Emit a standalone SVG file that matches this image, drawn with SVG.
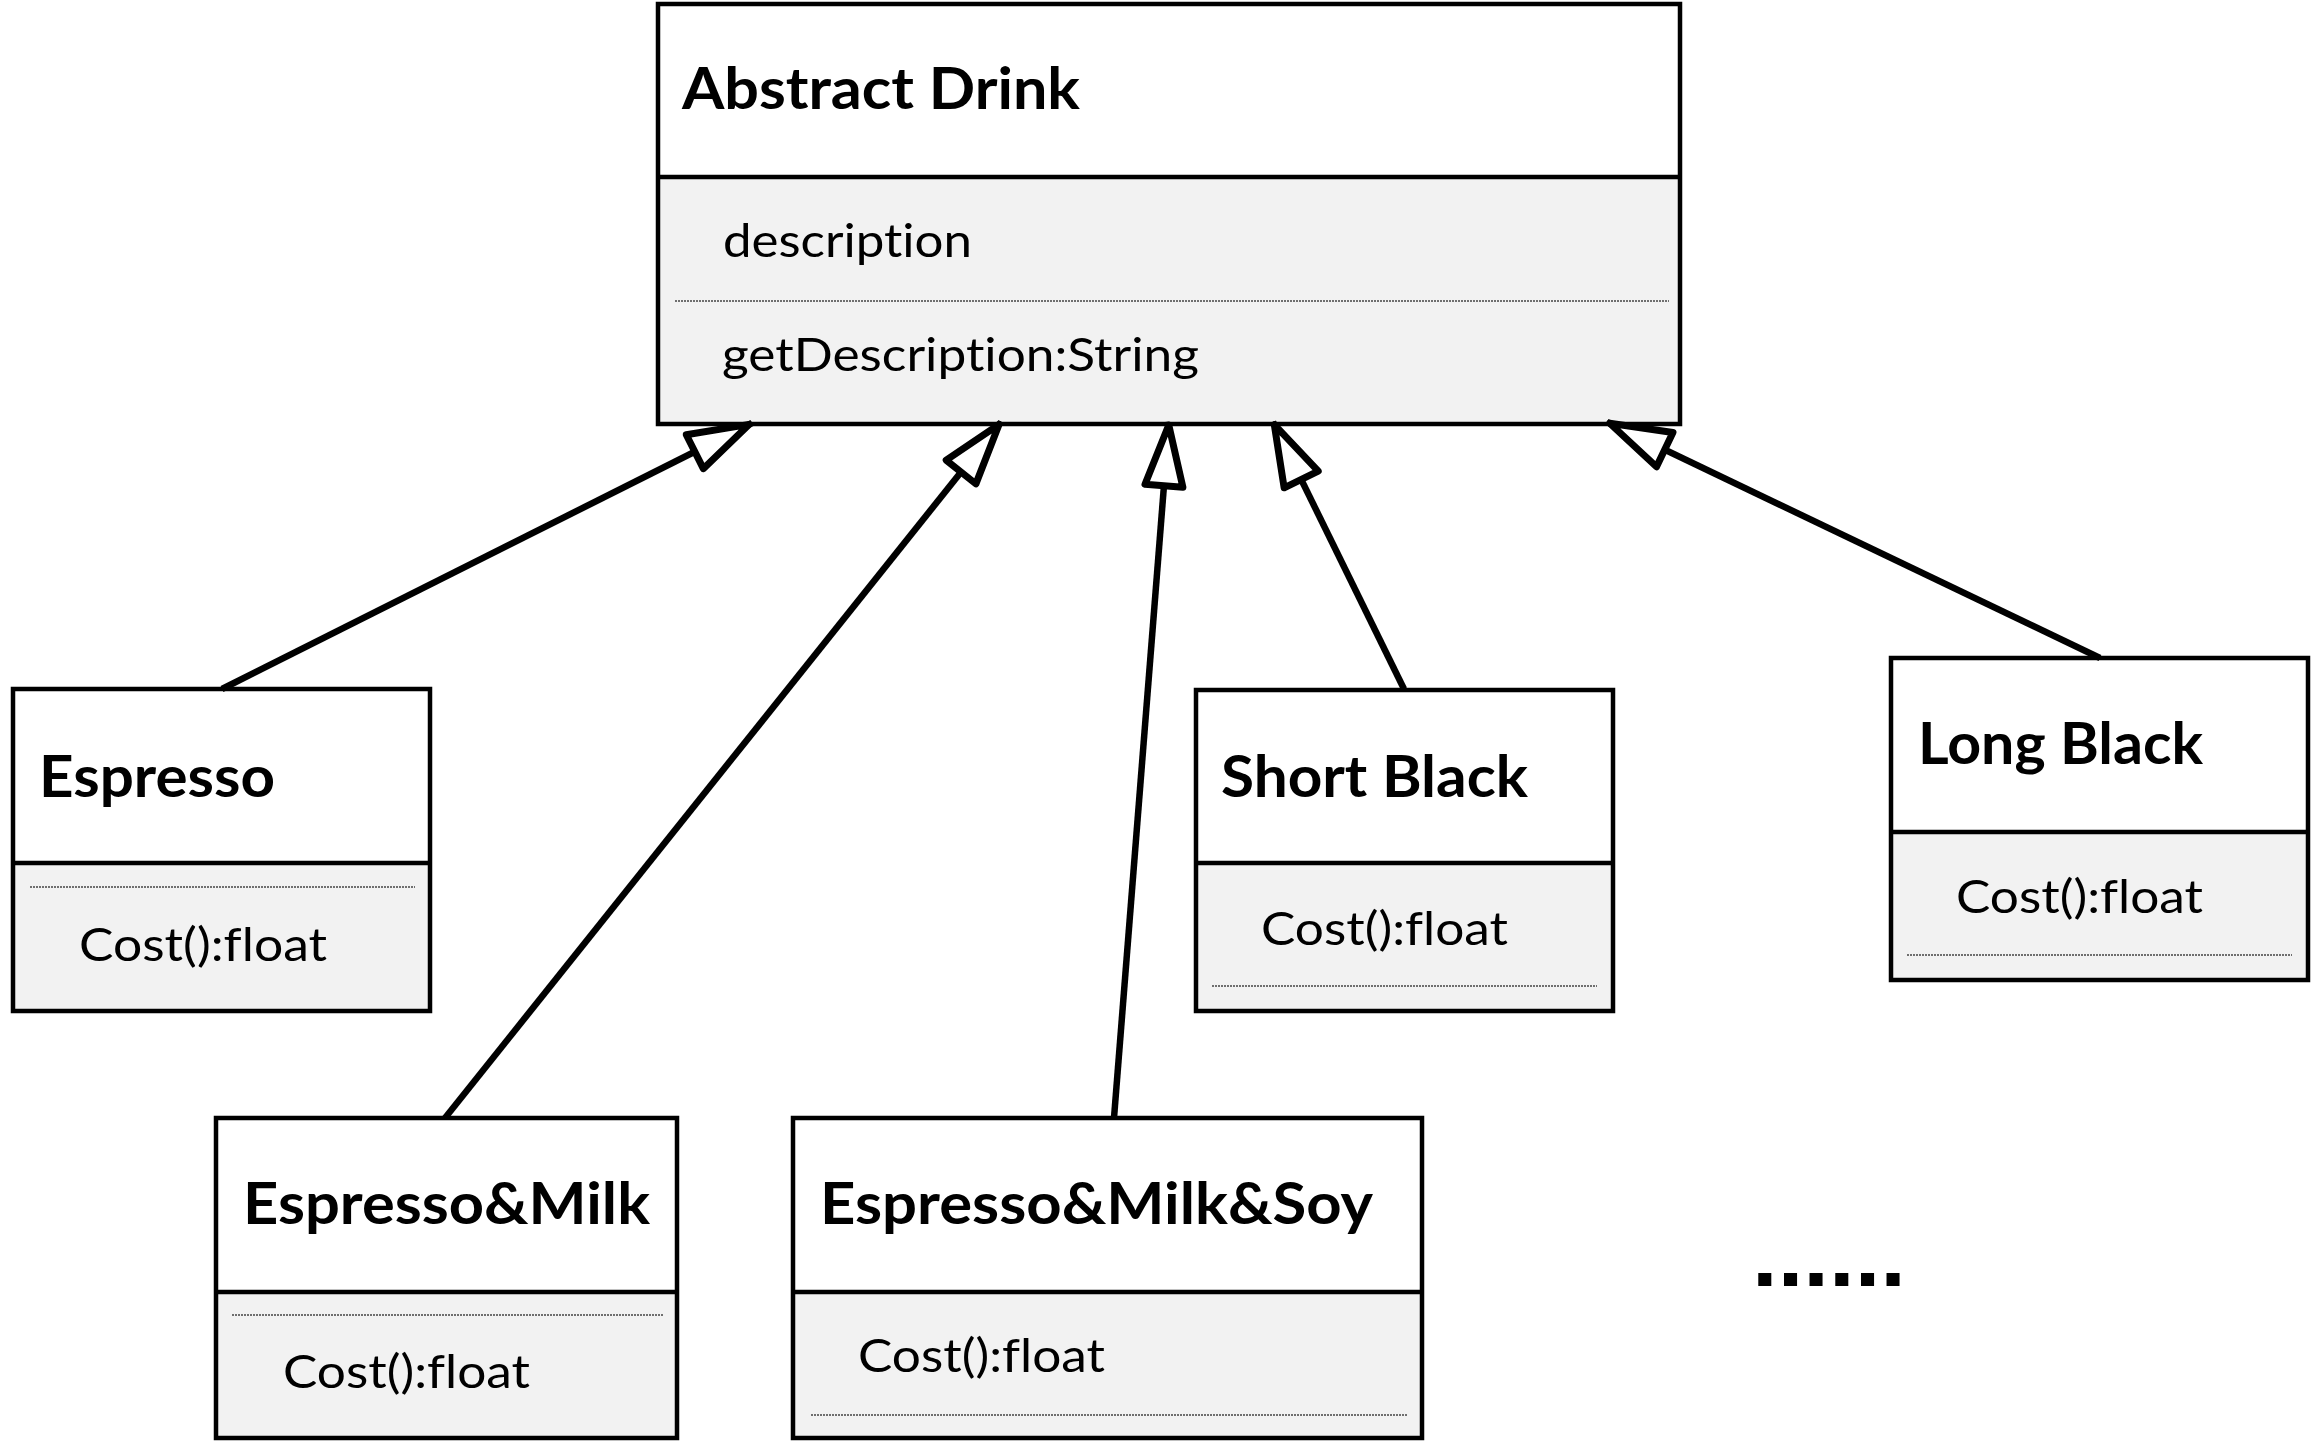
<svg xmlns="http://www.w3.org/2000/svg" width="2313" height="1442" viewBox="0 0 2313 1442">
<style>
.box{fill:none;stroke:#000;stroke-width:4.5;}
.hdr{fill:#fff;}
.body{fill:#f2f2f2;}
.div{stroke:#000;stroke-width:4.5;}
.dot{stroke:#444;stroke-width:1.6;stroke-dasharray:2 1;}
.title{font-family:Lato,"Liberation Sans",sans-serif;font-weight:bold;font-size:58px;fill:#000;font-variant-ligatures:none;}
.item{font-family:Lato,"Liberation Sans",sans-serif;font-size:47px;fill:#000;font-variant-ligatures:none;}
.more{font-family:"Liberation Sans",sans-serif;font-weight:bold;font-size:88px;fill:#000;}
.conn{fill:none;stroke:#000;stroke-width:6.5;marker-end:url(#tri);}
</style>
<defs>
<marker id="tri" markerUnits="userSpaceOnUse" orient="auto" viewBox="-72 -28 76 56" markerWidth="76" markerHeight="56" refX="0" refY="0" overflow="visible">
<path d="M-3,0 L-64,-19 L-64,19 Z" fill="#fff" stroke="#000" stroke-width="7" stroke-linejoin="round"/>
</marker>
</defs>
<rect width="2313" height="1442" fill="#fff"/>

<g id="abstract-drink">
<rect class="hdr" x="658" y="4" width="1022" height="173"/>
<rect class="body" x="658" y="177" width="1022" height="247"/>
<line class="div" x1="658" y1="177" x2="1680" y2="177"/>
<line class="dot" x1="675" y1="301" x2="1669" y2="301"/>
<rect class="box" x="658" y="4" width="1022" height="420"/>
<text class="title" x="682" y="109" textLength="398" lengthAdjust="spacingAndGlyphs">Abstract Drink</text>
<text class="item" x="723" y="257" textLength="249" lengthAdjust="spacingAndGlyphs">description</text>
<text class="item" x="722" y="371" textLength="477" lengthAdjust="spacingAndGlyphs">getDescription:String</text>
</g>

<g id="espresso">
<rect class="hdr" x="13" y="689" width="417" height="174"/>
<rect class="body" x="13" y="863" width="417" height="148"/>
<line class="div" x1="13" y1="863" x2="430" y2="863"/>
<line class="dot" x1="30" y1="887" x2="415" y2="887"/>
<rect class="box" x="13" y="689" width="417" height="322"/>
<text class="title" x="39" y="797" textLength="236" lengthAdjust="spacingAndGlyphs">Espresso</text>
<text class="item" x="79" y="961" textLength="248" lengthAdjust="spacingAndGlyphs">Cost():float</text>
</g>

<g id="espresso-milk">
<rect class="hdr" x="216" y="1118" width="461" height="174"/>
<rect class="body" x="216" y="1292" width="461" height="146"/>
<line class="div" x1="216" y1="1292" x2="677" y2="1292"/>
<line class="dot" x1="232" y1="1315" x2="663" y2="1315"/>
<rect class="box" x="216" y="1118" width="461" height="320"/>
<text class="title" x="243" y="1224" textLength="407" lengthAdjust="spacingAndGlyphs">Espresso&amp;Milk</text>
<text class="item" x="283" y="1388" textLength="247" lengthAdjust="spacingAndGlyphs">Cost():float</text>
</g>

<g id="espresso-milk-soy">
<rect class="hdr" x="793" y="1118" width="629" height="174"/>
<rect class="body" x="793" y="1292" width="629" height="146"/>
<line class="div" x1="793" y1="1292" x2="1422" y2="1292"/>
<line class="dot" x1="811" y1="1415" x2="1408" y2="1415"/>
<rect class="box" x="793" y="1118" width="629" height="320"/>
<text class="title" x="820" y="1224" textLength="553" lengthAdjust="spacingAndGlyphs">Espresso&amp;Milk&amp;Soy</text>
<text class="item" x="858" y="1372" textLength="247" lengthAdjust="spacingAndGlyphs">Cost():float</text>
</g>

<g id="short-black">
<rect class="hdr" x="1196" y="690" width="417" height="173"/>
<rect class="body" x="1196" y="863" width="417" height="148"/>
<line class="div" x1="1196" y1="863" x2="1613" y2="863"/>
<line class="dot" x1="1212" y1="986" x2="1597" y2="986"/>
<rect class="box" x="1196" y="690" width="417" height="321"/>
<text class="title" x="1221" y="797" textLength="307" lengthAdjust="spacingAndGlyphs">Short Black</text>
<text class="item" x="1261" y="945" textLength="247" lengthAdjust="spacingAndGlyphs">Cost():float</text>
</g>

<g id="long-black">
<rect class="hdr" x="1891" y="658" width="417" height="174"/>
<rect class="body" x="1891" y="832" width="417" height="148"/>
<line class="div" x1="1891" y1="832" x2="2308" y2="832"/>
<line class="dot" x1="1907" y1="955" x2="2292" y2="955"/>
<rect class="box" x="1891" y="658" width="417" height="322"/>
<text class="title" x="1918" y="764" textLength="285" lengthAdjust="spacingAndGlyphs">Long Black</text>
<text class="item" x="1956" y="913" textLength="247" lengthAdjust="spacingAndGlyphs">Cost():float</text>
</g>

<g id="connectors">
<path class="conn" d="M222,689 L752,423"/>
<path class="conn" d="M445,1118 L1001,422"/>
<path class="conn" d="M1114,1118 L1169,422"/>
<path class="conn" d="M1404,689 L1273,422"/>
<path class="conn" d="M2100,658 L1607,422"/>
</g>

<text class="more" x="1752" y="1286" textLength="154" lengthAdjust="spacingAndGlyphs">......</text>
</svg>
